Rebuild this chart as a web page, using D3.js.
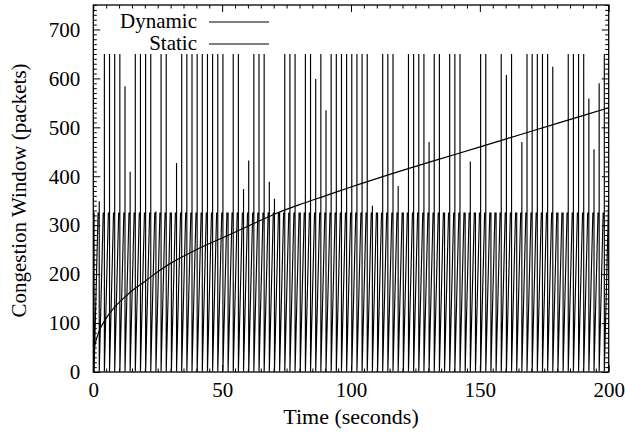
<!DOCTYPE html>
<html><head><meta charset="utf-8">
<script src="https://cdn.jsdelivr.net/npm/d3@7"></script>
<style>
html,body{margin:0;padding:0;background:#fff;}
svg{display:block;}
</style></head>
<body>
<svg id="c" width="625" height="433"></svg>
<script>
// ---- data ----
const xTicks = [0, 50, 100, 150, 200];
const yTicks = [0, 100, 200, 300, 400, 500, 600, 700];
const xLabel = "Time (seconds)";
const yLabel = "Congestion Window (packets)";
const seriesNames = ["Dynamic", "Static"];

// Dynamic: smooth growing congestion window
const dynamicTime  = [0, 0.5, 1, 2, 3, 5, 8, 12, 16, 20, 25, 30, 40, 50, 60, 70, 80, 90, 100, 120, 140, 160, 180, 200];
const dynamicValue = [30, 52, 63, 80, 92, 110, 131, 152, 170, 185, 205, 222, 250, 274, 298, 322, 342, 360, 378, 412, 444, 476, 508, 540];

// Static: sawtooth, one tooth every 2 s; plateau 325 packets, peak value of each tooth
const staticFirstDrop = 0.3;   // s
const staticPeriod = 2;        // s
const staticPlateau = 325;
const staticFloor = 1;
const staticPeaks = [
  325, 349, 650, 650, 650, 650, 584, 409, 650, 650,
  650, 650, 328, 650, 650, 325, 427, 650, 650, 650,
  650, 650, 650, 650, 650, 650, 325, 650, 650, 374,
  432, 650, 650, 650, 389, 354, 325, 650, 650, 650,
  325, 650, 650, 599, 650, 535, 650, 650, 650, 650,
  650, 650, 650, 650, 340, 325, 650, 650, 650, 380,
  325, 650, 650, 650, 650, 470, 650, 650, 325, 650,
  650, 650, 325, 430, 325, 650, 650, 325, 325, 650,
  607, 650, 325, 470, 650, 650, 650, 650, 650, 624,
  325, 325, 650, 650, 650, 650, 559, 455, 590, 650
];

// ---- layout ----
const FONT = "Liberation Serif, Times New Roman, Times, DejaVu Serif, serif";
const L = 93.3, R = 608.7, T = 5, B = 372;
const svg = d3.select("#c").attr("font-family", FONT).attr("font-size", 21);
const x = d3.scaleLinear().domain([0, 200]).range([L, R]);
const y = d3.scaleLinear().domain([0, 750]).range([B, T]);

// build static path points from teeth
const staticPts = [[0, staticFloor]];
staticPeaks.forEach((pk, k) => {
  const tDrop = staticFirstDrop + k * staticPeriod;
  const tTop = k === 0 ? 0.2 : tDrop - 0.45;
  staticPts.push([tTop, staticPlateau]);
  staticPts.push([tDrop, staticPlateau]);
  if (pk > staticPlateau) staticPts.push([tDrop, pk]);
  staticPts.push([tDrop, staticFloor]);
});
staticPts.push([200, staticFloor + (200 - (staticFirstDrop + 99 * staticPeriod)) / (staticPeriod - 0.45) * (staticPlateau - staticFloor)]);

const line = d3.line().x(d => x(d[0])).y(d => y(d[1]));

svg.append("defs").append("clipPath").attr("id", "clip")
  .append("rect").attr("x", L).attr("y", T).attr("width", R - L).attr("height", B - T);

const plot = svg.append("g").attr("clip-path", "url(#clip)");
plot.append("path").datum(staticPts).attr("d", line)
  .attr("fill", "none").attr("stroke", "#000").attr("stroke-width", 1.15)
  .attr("stroke-linejoin", "miter");
const dynData = dynamicTime.map((t, i) => [t, dynamicValue[i]]);
plot.append("path").datum(dynData).attr("d", line.curve(d3.curveMonotoneX))
  .attr("fill", "none").attr("stroke", "#000").attr("stroke-width", 1.2);

// ---- axes (ticks inward on all sides, gnuplot style) ----
const xMinor = d3.range(0, 201, 5).filter(v => v % 50 !== 0);
const yMinor = d3.range(0, 751, 10).filter(v => v % 100 !== 0);

function styleAxis(g) {
  g.attr("font-family", FONT).attr("font-size", 21);
  g.select(".domain").remove();
  g.selectAll(".tick line").attr("stroke", "#000").attr("stroke-width", 1);
  g.selectAll("text").attr("font-family", FONT).attr("font-size", 21).attr("fill", "#000");
}

// bottom
svg.append("g").attr("transform", `translate(0,${B})`)
  .call(d3.axisBottom(x).tickValues(xTicks).tickSize(-7).tickPadding(10).tickFormat(d3.format("d")))
  .call(styleAxis);
svg.append("g").attr("transform", `translate(0,${B})`)
  .call(d3.axisBottom(x).tickValues(xMinor).tickSize(-3.5).tickFormat(""))
  .call(styleAxis);
// top
svg.append("g").attr("transform", `translate(0,${T})`)
  .call(d3.axisTop(x).tickValues(xTicks).tickSize(-7).tickFormat(""))
  .call(styleAxis);
svg.append("g").attr("transform", `translate(0,${T})`)
  .call(d3.axisTop(x).tickValues(xMinor).tickSize(-3.5).tickFormat(""))
  .call(styleAxis);
// left
svg.append("g").attr("transform", `translate(${L},0)`)
  .call(d3.axisLeft(y).tickValues(yTicks).tickSize(-7).tickPadding(13).tickFormat(d3.format("d")))
  .call(styleAxis);
svg.append("g").attr("transform", `translate(${L},0)`)
  .call(d3.axisLeft(y).tickValues(yMinor).tickSize(-3.5).tickFormat(""))
  .call(styleAxis);
// right
svg.append("g").attr("transform", `translate(${R},0)`)
  .call(d3.axisRight(y).tickValues(yTicks).tickSize(-7).tickFormat(""))
  .call(styleAxis);
svg.append("g").attr("transform", `translate(${R},0)`)
  .call(d3.axisRight(y).tickValues(yMinor).tickSize(-3.5).tickFormat(""))
  .call(styleAxis);

// frame
svg.append("rect").attr("x", L).attr("y", T).attr("width", R - L).attr("height", B - T)
  .attr("fill", "none").attr("stroke", "#000").attr("stroke-width", 1.3);

// axis titles
svg.append("text").attr("x", (L + R) / 2).attr("y", 424).attr("text-anchor", "middle")
  .attr("font-family", FONT).attr("font-size", 22).text(xLabel);
svg.append("text").attr("transform", `translate(26,${(T + B) / 2 + 2}) rotate(-90)`)
  .attr("text-anchor", "middle").attr("font-family", FONT).attr("font-size", 21).text(yLabel);

// legend
const legY = [22, 44];
seriesNames.forEach((n, i) => {
  svg.append("text").attr("x", 197).attr("y", legY[i] + 6).attr("text-anchor", "end")
    .attr("font-family", FONT).attr("font-size", 21).text(n);
  svg.append("line").attr("x1", 209).attr("x2", 269).attr("y1", legY[i]).attr("y2", legY[i])
    .attr("stroke", "#000").attr("stroke-width", 1.2);
});
</script>
</body></html>
